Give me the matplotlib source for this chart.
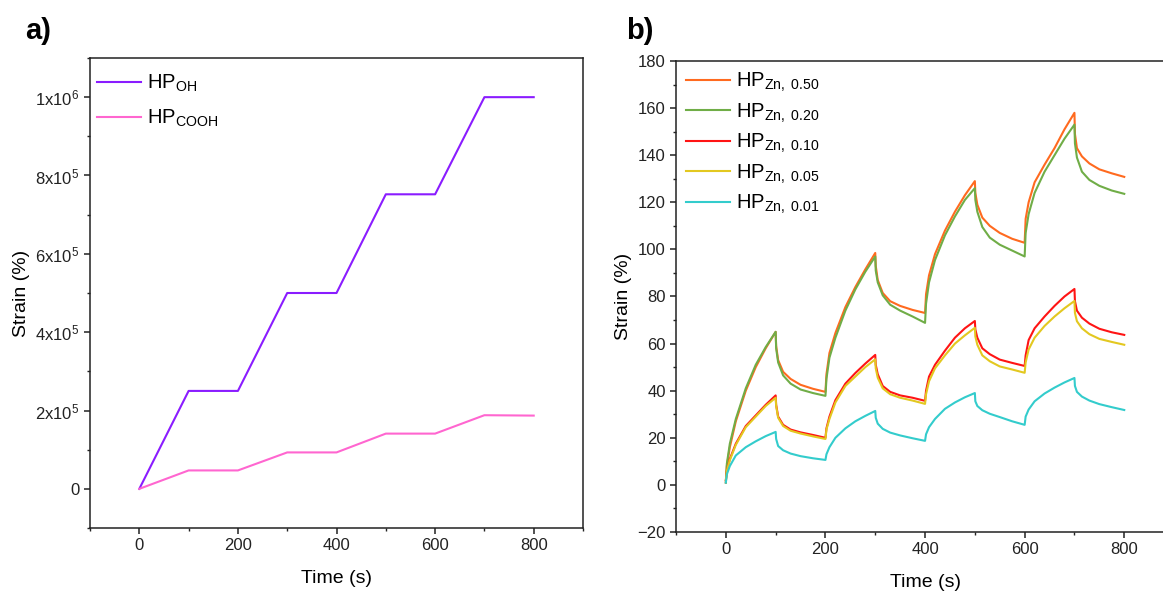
import numpy as np
import matplotlib
matplotlib.use('Agg')
import matplotlib.pyplot as plt
from matplotlib.ticker import MultipleLocator

plt.rcParams['font.family'] = ['Liberation Sans', 'DejaVu Sans']
plt.rcParams['mathtext.fontset'] = 'custom'
plt.rcParams['mathtext.rm'] = 'Liberation Sans'
plt.rcParams['mathtext.it'] = 'Liberation Sans'
plt.rcParams['mathtext.default'] = 'regular'

## panel a) data
t_a = [0, 100, 200, 300, 400, 500, 600, 700, 800]
hp_oh = [0, 2.50e5, 2.50e5, 5.00e5, 5.00e5, 7.52e5, 7.52e5, 1.00e6, 1.00e6]
hp_cooh = [0, 4.7e4, 4.7e4, 9.3e4, 9.3e4, 1.41e5, 1.41e5, 1.88e5, 1.87e5]
yticks_a = [0, 2e5, 4e5, 6e5, 8e5, 1e6]
ylabels_a = ['0', '2x10$^5$', '4x10$^5$', '6x10$^5$', '8x10$^5$', '1x10$^6$']

## panel b) data (creep / recovery cycles)
t_b = [0, 2, 8, 20, 40, 60, 80, 100,
       101, 105, 115, 130, 150, 175, 200,
       202, 208, 220, 240, 260, 280, 300,
       301, 305, 315, 330, 350, 375, 400,
       402, 408, 420, 440, 460, 480, 500,
       501, 505, 515, 530, 550, 575, 600,
       602, 608, 620, 640, 660, 680, 700,
       701, 705, 715, 730, 750, 775, 800]

zn_050 = [1, 8, 16, 27, 40, 50, 58, 65,
          59, 53, 48, 45, 42.5, 40.8, 39.5,
          47, 56, 64.5, 75.5, 84, 91.5, 98.5,
          93, 87, 81.5, 78, 76, 74.3, 73,
          81, 89, 98, 108, 116, 123, 129,
          124, 119, 113.5, 110, 107, 104.5, 102.8,
          113, 120, 128.5, 136, 143, 151, 158,
          149, 143, 139.5, 136.5, 134, 132.3, 130.8]

zn_020 = [1, 9, 17.5, 28, 41, 51, 58.5, 65,
          58, 52, 46.5, 43, 40.5, 39, 37.8,
          45, 54, 62.5, 74, 83, 90.5, 97,
          91, 86, 80.5, 76.5, 74, 71.5, 68.8,
          77, 86, 95.5, 106, 114, 121, 126,
          121, 116, 109.5, 105, 102, 99.5, 97,
          107, 115, 124, 133, 140, 147, 153,
          145, 139, 133, 129.5, 127, 125, 123.6]

zn_010 = [2, 6, 11, 17.5, 25, 29.5, 34, 38,
          34, 29, 25.5, 23.5, 22.3, 21.2, 20,
          24, 29, 36, 43, 47.5, 51.5, 55.2,
          51, 47, 42, 39.5, 38, 37, 35.7,
          40, 46, 51, 57, 62.5, 66.5, 69.6,
          66, 62.5, 58, 55.5, 53.2, 51.8, 50.5,
          55, 61.5, 66.5, 71.5, 76, 80, 83.2,
          78, 74, 71, 68.5, 66.3, 64.8, 63.7]

zn_005 = [2, 6, 10.5, 17, 24.5, 29, 33.5, 37,
          33.5, 28.5, 25, 23, 21.8, 20.6, 19.5,
          23.5, 28, 35, 42, 46, 50, 53.3,
          49.5, 45.5, 41, 38.5, 37, 35.8, 34.4,
          38.5, 44, 49.5, 55, 60, 63.5, 66.7,
          63, 59.5, 55, 52.5, 50.3, 49, 47.6,
          52, 57.5, 62.5, 67.5, 71.5, 75, 78.1,
          73, 69.5, 66.5, 64, 62, 60.7, 59.5]

zn_001 = [1, 4.5, 8, 12.5, 16, 18.5, 20.7, 22.5,
          19.5, 16.5, 14.7, 13.3, 12.2, 11.3, 10.6,
          13, 16, 20, 24, 27, 29.3, 31.4,
          28.5, 26, 23.8, 22.2, 21, 19.8, 18.7,
          21.5, 24.5, 28, 32.3, 35, 37.2, 39,
          35.5, 33.5, 31.7, 30.2, 28.8, 27, 25.5,
          29, 32, 35.5, 38.8, 41.3, 43.5, 45.4,
          42, 39.5, 37.5, 35.8, 34.3, 33, 31.8]

fig = plt.figure(figsize=(11.63, 5.93), dpi=100)
ax1 = fig.add_axes([0.0774, 0.1096, 0.4239, 0.7926])
ax2 = fig.add_axes([0.5813, 0.1029, 0.4282, 0.7942])

ax1.plot(t_a, hp_oh, color='#8A1CFF', lw=1.5, label='HP$_{OH}$')
ax1.plot(t_a, hp_cooh, color='#FF66D0', lw=1.5, label='HP$_{COOH}$')
ax1.set_xlim(-100, 900)
ax1.set_ylim(-1e5, 1.1e6)
ax1.set_yticks(yticks_a)
ax1.set_yticklabels(ylabels_a)
ax1.yaxis.set_minor_locator(MultipleLocator(1e5))
ax1.set_xticks([0, 200, 400, 600, 800])
ax1.xaxis.set_minor_locator(MultipleLocator(100))
ax1.set_xlabel('Time (s)', fontsize=14, labelpad=12)
ax1.set_ylabel('Strain (%)', fontsize=14, labelpad=4)
ax1.legend(loc='upper left', bbox_to_anchor=(-0.006, 0.99), frameon=False,
           fontsize=14.5, handlelength=2.2, labelspacing=0.7, handletextpad=0.3,
           borderaxespad=0.3, borderpad=0.2)

series = [(zn_050, '#FF6A1F', 'HP$_{Zn,\\ 0.50}$'),
          (zn_020, '#70AD47', 'HP$_{Zn,\\ 0.20}$'),
          (zn_010, '#FF1414', 'HP$_{Zn,\\ 0.10}$'),
          (zn_005, '#E3C820', 'HP$_{Zn,\\ 0.05}$'),
          (zn_001, '#33CCCC', 'HP$_{Zn,\\ 0.01}$')]
for vals, col, lab in series:
    ax2.plot(t_b, vals, color=col, lw=1.5, label=lab)
ax2.set_xlim(-100, 900)
ax2.set_ylim(-20, 180)
ax2.set_yticks(np.arange(-20, 181, 20))
ax2.yaxis.set_minor_locator(MultipleLocator(10))
ax2.set_xticks([0, 200, 400, 600, 800])
ax2.xaxis.set_minor_locator(MultipleLocator(100))
ax2.set_xlabel('Time (s)', fontsize=14, labelpad=12)
ax2.set_ylabel('Strain (%)', fontsize=14, labelpad=4)
ax2.legend(loc='upper left', bbox_to_anchor=(0.0, 1.0), frameon=False,
           fontsize=14.5, handlelength=2.2, labelspacing=0.36, handletextpad=0.3,
           borderaxespad=0.3, borderpad=0.2)

for ax in (ax1, ax2):
    for sp in ax.spines.values():
        sp.set_linewidth(1.1)
        sp.set_color('#222222')
    ax.tick_params(which='major', direction='out', length=4, width=1.1, labelsize=12, colors='#222222')
    ax.tick_params(which='minor', direction='out', length=2.5, width=1.0, colors='#222222')

fig.text(0.022, 0.948, 'a)', fontsize=21, fontweight='bold', va='center')
fig.text(0.538, 0.948, 'b)', fontsize=21, fontweight='bold', va='center')

fig.savefig('out.png', dpi=100)
